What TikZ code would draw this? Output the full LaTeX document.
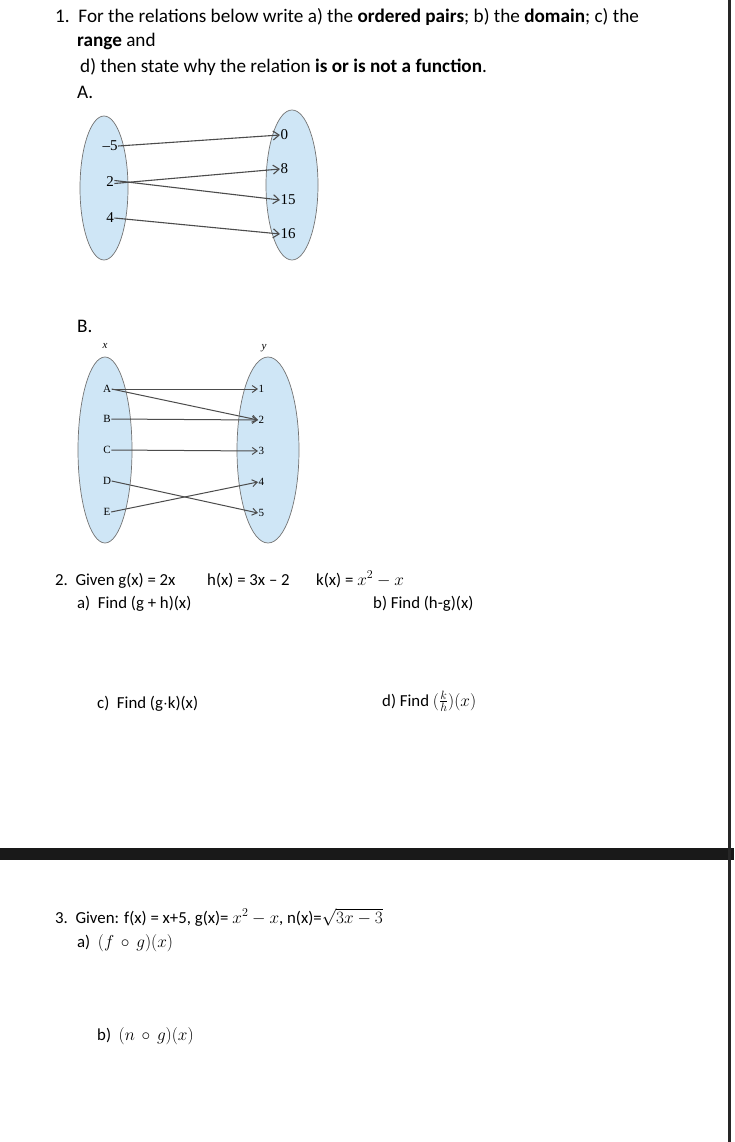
\documentclass[tikz,border=0pt]{standalone}
\usepackage{fontspec}
\setmainfont{Carlito}
\newfontfamily\dgm{Liberation Serif}
\usetikzlibrary{arrows.meta}
\definecolor{ovalfill}{HTML}{CFE6F6}
\begin{document}
\begin{tikzpicture}[x=1pt,y=-1pt,
  txt/.style={anchor=base west,inner sep=0pt,font=\fontsize{19.2}{22}\selectfont},
  txts/.style={anchor=base west,inner sep=0pt,font=\fontsize{16.8}{20}\selectfont},
  lab/.style={inner sep=0.5pt,font=\dgm\fontsize{15}{16}\selectfont},
  labB/.style={inner sep=0.5pt,font=\dgm\fontsize{11}{12}\selectfont},
  oval/.style={draw=black!55,fill=ovalfill,line width=0.7pt},
  arr/.style={-{Straight Barb[length=6pt,width=9pt]},line width=1.1pt,draw=black!70},
  arrB/.style={-{Straight Barb[length=5pt,width=7pt]},line width=1pt,draw=black!70}]
\useasboundingbox (0,0) rectangle (734,1142);
\fill[white] (0,0) rectangle (734,1142);
\fill[black!90] (0,848) rectangle (734,860);
\fill[black!85] (728,0) rectangle (731,1142);
% Question 1
\node[txt] (q1a) at (55,23) {1.\ \ For the relations below write a) the \textbf{ordered pairs}; b) the \textbf{domain}; c) the};
\node[txt] (q1b) at (77,47) {\textbf{range} and};
\node[txt] (q1c) at (80,73) {d) then state why the relation \textbf{is or is not a function}.};
\node[txt] (qA) at (77,99) {A.};
% Diagram A
\draw[oval] (104,188) ellipse [x radius=24,y radius=72];
\draw[oval] (292,185) ellipse [x radius=26,y radius=75];
\node[lab] (m5) at (110,146) {–5};
\node[lab] (a2) at (110,182) {2};
\node[lab] (a4) at (110,218) {4};
\node[lab,anchor=west] (r0) at (280,135) {0};
\node[lab,anchor=west] (r8) at (280,169) {8};
\node[lab,anchor=west] (r15) at (280,200) {15};
\node[lab,anchor=west] (r16) at (280,234) {16};
\draw[arr] (m5.east) -- (r0.west);
\draw[arr] ([yshift=-1.5pt]a2.east) -- (r8.west);
\draw[arr] ([yshift=1.5pt]a2.east) -- (r15.west);
\draw[arr] (a4.east) -- (r16.west);
% B
\node[txt] (qB) at (77,332) {B.};
\node[labB] (lx) at (105,346) {\itshape x};
\node[labB] (ly) at (264,348) {\itshape y};
\draw[oval] (105,450) ellipse [x radius=27,y radius=93];
\draw[oval] (268,450) ellipse [x radius=31,y radius=93];
\node[labB] (bA) at (107,389) {A};
\node[labB] (bB) at (107,419) {B};
\node[labB] (bC) at (107,450) {C};
\node[labB] (bD) at (107,481) {D};
\node[labB] (bE) at (107,512) {E};
\node[labB,anchor=west] (b1) at (258,389) {1};
\node[labB,anchor=west] (b2) at (258,420) {2};
\node[labB,anchor=west] (b3) at (258,451) {3};
\node[labB,anchor=west] (b4) at (258,482) {4};
\node[labB,anchor=west] (b5) at (258,513) {5};
\draw[arrB] (bA.east) -- (b1.west);
\draw[arrB] (bA.east) -- (b2.west);
\draw[arrB] (bB.east) -- (b2.west);
\draw[arrB] (bC.east) -- (b3.west);
\draw[arrB] (bD.east) -- (b5.west);
\draw[arrB] (bE.east) -- (b4.west);
% Question 2
\node[txts] (q2) at (55,585) {2.\ \ Given g(x) = 2x};
\node[txts] (q2h) at (207,585) {h(x) = 3x -- 2};
\node[txts] (q2k) at (316,585) {k(x) = $x^2-x$};
\node[txts] (q2a) at (77,608) {a)\ \ Find (g + h)(x)};
\node[txts] (q2b) at (373,608) {b) Find (h-g)(x)};
\node[txts] (q2c) at (97,708) {c)\ \ Find (g$\cdot$k)(x)};
\node[txts] (q2d) at (382,706) {d) Find $(\frac{k}{h})(x)$};
% Question 3
\node[txts] (q3) at (55,923) {3.\ \ Given: f(x) = x+5, g(x)= $x^2-x$, n(x)=$\sqrt{3x-3}$};
\node[txts] (q3a) at (77,947) {a)\ \ $(f\,\circ\,g)(x)$};
\node[txts] (q3b) at (97,1040) {b)\ \ $(n\,\circ\,g)(x)$};
\end{tikzpicture}
\end{document}
